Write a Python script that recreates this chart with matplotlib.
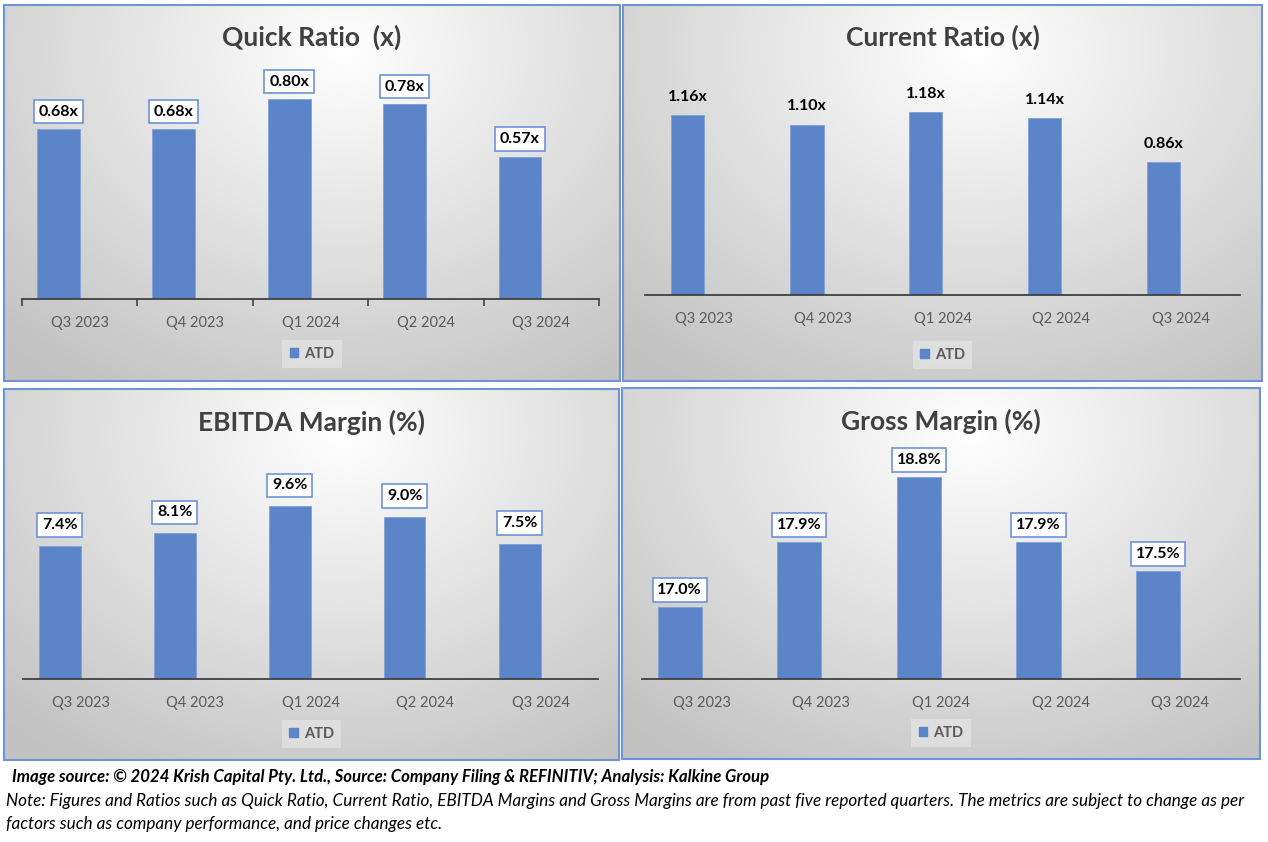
import numpy as np
import matplotlib.pyplot as plt
from matplotlib.patches import Rectangle, Patch

# dados
quarters = ['Q3 2023', 'Q4 2023', 'Q1 2024', 'Q2 2024', 'Q3 2024']
quick_ratio = [0.68, 0.68, 0.80, 0.78, 0.57]
current_ratio = [1.16, 1.10, 1.18, 1.14, 0.86]
ebitda_margin = [7.4, 8.1, 9.6, 9.0, 7.5]
gross_margin = [17.0, 17.9, 18.8, 17.9, 17.5]

W, H = 1268, 842
plt.rcParams['font.family'] = ['Lato', 'DejaVu Sans']
fig = plt.figure(figsize=(W / 100, H / 100), dpi=100)
fig.patch.set_facecolor('white')

bar_color = '#5B84C9'
border_color = '#6E93D6'


def frac(x0, y0, x1, y1):
    # caixa em pixels (origem no topo) -> fração da figura
    return [x0 / W, 1 - y1 / H, (x1 - x0) / W, (y1 - y0) / H]


def panel_bg(x0, y0, x1, y1):
    bg = fig.add_axes(frac(x0, y0, x1, y1), zorder=0)
    ny, nx = 200, 300
    yy, xx = np.mgrid[0:1:ny * 1j, 0:1:nx * 1j]
    d = np.sqrt(((xx - 0.55) * 1.0) ** 2 + ((yy - 0.12) * 0.75) ** 2)
    v = np.clip(1.0 - 0.30 * d, 0.76, 1.0)
    img = np.dstack([v, v, v])
    bg.imshow(img, aspect='auto', extent=[0, 1, 0, 1], origin='upper')
    bg.set_xlim(0, 1)
    bg.set_ylim(0, 1)
    bg.axis('off')
    fig.patches.append(Rectangle((x0 / W, 1 - y1 / H), (x1 - x0) / W, (y1 - y0) / H,
                                 transform=fig.transFigure, fill=False,
                                 edgecolor=border_color, linewidth=1.5, zorder=5))


def panel(box, axbox, vals, ylim, width, title, title_y, fmt, boxed, off, leg_y, ticks):
    x0, y0, x1, y1 = box
    panel_bg(x0, y0, x1, y1)
    ax = fig.add_axes(frac(*axbox), zorder=2)
    ax.patch.set_alpha(0)
    xs = np.arange(len(vals))
    bx = xs - width / 2  # barra deslocada como no Excel (segunda série vazia)
    ax.bar(bx, np.array(vals) - ylim[0], bottom=ylim[0], width=width, color=bar_color,
           edgecolor='#7FA0D8', linewidth=0.6)
    ax.set_xlim(-0.5, len(vals) - 0.5)
    ax.set_ylim(*ylim)
    for sp in ['top', 'right', 'left']:
        ax.spines[sp].set_visible(False)
    ax.spines['bottom'].set_color('#404040')
    ax.spines['bottom'].set_linewidth(1.3)
    ax.set_yticks([])
    ax.set_xticks(xs)
    ax.set_xticklabels(quarters, fontsize=10.5, color='#595959')
    ax.tick_params(axis='x', length=0, pad=12)
    if ticks:
        ax.set_xticks(np.arange(-0.5, len(vals)), minor=True)
        ax.tick_params(axis='x', which='minor', length=5, width=1.2, color='#404040')
    for x, v in zip(bx, vals):
        bb = dict(boxstyle='square,pad=0.3', fc='white', ec=border_color, lw=1.2) if boxed else None
        ax.annotate(fmt(v), (x, v), xytext=(0, off), textcoords='offset points',
                    ha='center', va='center', fontsize=11.5, fontweight='bold',
                    color='black', bbox=bb)
    fig.text((x0 + x1) / 2 / W, 1 - title_y / H, title, ha='center', va='center',
             fontsize=19, fontweight='bold', color='#404040')
    leg = ax.legend(handles=[Patch(color=bar_color, label='ATD')], loc='center',
                    bbox_to_anchor=((x0 + x1) / 2 / W, 1 - leg_y / H),
                    bbox_transform=fig.transFigure, frameon=True, fancybox=False,
                    handlelength=0.6, handleheight=0.6, handletextpad=0.4,
                    borderpad=0.5, prop={'weight': 'bold', 'size': 10.5})
    leg.get_frame().set_facecolor('#E2E2E2')
    leg.get_frame().set_edgecolor('none')
    for t in leg.get_texts():
        t.set_color('#595959')


panel((4, 5, 620, 381), (22, 60, 599, 299), quick_ratio, (0, 239 / 250), 0.37,
      'Quick Ratio  (x)', 37, lambda v: f'{v:.2f}x', True, 12.5, 354, True)
panel((623, 5, 1262, 381), (645, 60, 1240, 295), current_ratio, (0, 235 / 155), 0.28,
      'Current Ratio (x)', 37, lambda v: f'{v:.2f}x', False, 13, 355, False)
panel((4, 389, 619, 760), (23, 445, 598, 679), ebitda_margin, (0, 234 / 18), 0.36,
      'EBITDA Margin (%)', 422, lambda v: f'{v:.1f}%', True, 15, 734, False)
panel((622, 388, 1260, 759), (642, 445, 1240, 679), gross_margin, (16, 16 + 234 / 72.2), 0.37,
      'Gross Margin (%)', 421, lambda v: f'{v:.1f}%', True, 12, 733, False)

fig.text(12 / W, 1 - 777 / H,
         'Image source: \u00a9 2024 Krish Capital Pty. Ltd., Source: Company Filing & REFINITIV; Analysis: Kalkine Group',
         ha='left', va='center', fontsize=12.1, fontweight='bold', style='italic', color='black')
fig.text(6 / W, 1 - 801 / H,
         'Note: Figures and Ratios such as Quick Ratio, Current Ratio, EBITDA Margins and Gross Margins are from past five reported quarters. The metrics are subject to change as per',
         ha='left', va='center', fontsize=12.3, style='italic', color='black')
fig.text(6 / W, 1 - 824 / H,
         'factors such as company performance, and price changes etc.',
         ha='left', va='center', fontsize=12.3, style='italic', color='black')

fig.savefig('out.png', dpi=100)
